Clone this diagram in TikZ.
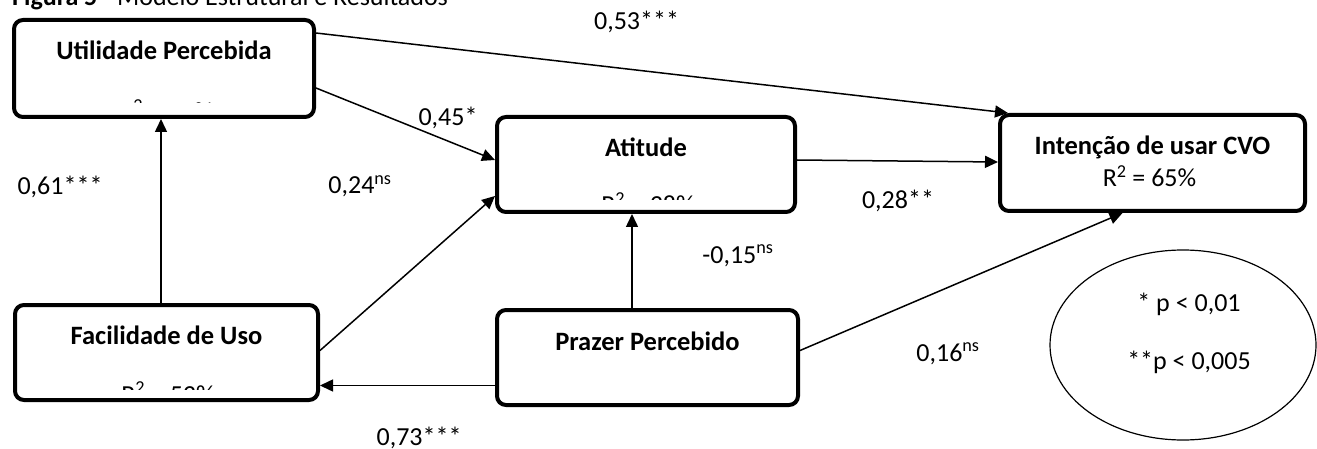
\documentclass[tikz,border=0pt]{standalone}
\usepackage{fontspec}
\setmainfont{Carlito}
\usetikzlibrary{arrows.meta,calc,shapes.geometric}
\begin{document}
\begin{tikzpicture}[x=1pt,y=-1pt,
  every node/.style={font=\fontsize{26}{31}\selectfont, inner sep=0pt},
  box/.style={draw, line width=4pt, rounded corners=9pt, inner sep=0pt},
  title/.style={font=\fontsize{26.5}{31}\selectfont\bfseries, anchor=base},
  rsq/.style={anchor=base},
  lbl/.style={anchor=base},
  conn/.style={line width=1.5pt, -{Triangle[length=13pt,width=12pt]}}
]
\useasboundingbox (0,0) rectangle (1317,449);
% caption
\node[anchor=base west] (cap) at (12,6) {\textbf{Figura 5} - Modelo Estrutural e Resultados};
% boxes
\node[box, minimum width=300pt, minimum height=97pt] (util) at (164,68.5) {};
\node[box, minimum width=298pt, minimum height=95pt] (atit) at (646,164.5) {};
\node[box, minimum width=305pt, minimum height=96pt] (inten) at (1152.5,163) {};
\node[box, minimum width=303pt, minimum height=95pt] (facil) at (166.5,352.5) {};
\node[box, minimum width=301pt, minimum height=95pt] (prazer) at (647.5,357.5) {};
% titles
\node[title] (tutil) at ($(util.north)+(0,42)$) {Utilidade Percebida};
\node[title] (tatit) at ($(atit.north)+(0,42)$) {Atitude};
\node[title] (tinten) at ($(inten.north)+(0,42)$) {Intenção de usar CVO};
\node[rsq] (rinten) at ($(inten.north)+(-3,74)$) {R\textsuperscript{2} = 65\%};
\node[title] (tfacil) at ($(facil.north)+(0,41)$) {Facilidade de Uso};
\node[title] (tprazer) at ($(prazer.north)+(0,42)$) {Prazer Percebido};
% clipped R2 texts
\begin{scope}
\clip (14,20) rectangle (314,103);
\node[rsq] (rutil) at (166,120.5) {R\textsuperscript{2} = 37\%};
\end{scope}
\begin{scope}
\clip (497,117) rectangle (795,200);
\node[rsq] (ratit) at (648,214) {R\textsuperscript{2} = 38\%};
\end{scope}
\begin{scope}
\clip (15,305) rectangle (318,389.5);
\node[rsq] (rfacil) at (168,403) {R\textsuperscript{2} = 53\%};
\end{scope}
% connectors
\draw[conn] ($(util.east)+(0,-35.5)$) -- ($(inten.north west)+(10,0)$);
\draw[conn] ($(util.east)+(0,19.5)$) -- ($(atit.west)+(0,-4.5)$);
\draw[conn] ($(facil.north)+(-5.5,0)$) -- ($(util.south)+(-3,0)$);
\draw[conn] ($(facil.east)+(0,-2)$) -- ($(atit.south west)+(0,-18)$);
\draw[conn] ($(atit.east)+(0,-4.5)$) -- ($(inten.west)+(0,-1)$);
\draw[conn] ($(prazer.north)+(-15.5,0)$) -- ($(atit.south)+(-14,0)$);
\draw[conn] ($(prazer.east)+(0,-7)$) -- ($(inten.south)+(-30,0)$);
\draw[conn] ($(prazer.west)+(0,28)$) -- ($(facil.east)+(0,33)$);
% labels
\node[lbl] (l1) at (636.5,30) {0,53***};
\node[lbl] (l2) at (448,126) {0,45*};
\node[lbl] (l3) at (60,195) {0,61***};
\node[lbl] (l4) at (360,194) {0,24\textsuperscript{ns}};
\node[lbl] (l5) at (898,209) {0,28**};
\node[lbl] (l6) at (738,263) {-0,15\textsuperscript{ns}};
\node[lbl] (l7) at (948,361) {0,16\textsuperscript{ns}};
\node[lbl] (l8) at (419,445) {0,73***};
% legend
\node[draw, ellipse, line width=1.2pt, minimum width=266pt, minimum height=190pt] (leg) at (1183,345) {};
\node[lbl] (p1) at (1189,311) {* p < 0,01};
\node[lbl] (p2) at (1189,369) {**p < 0,005};
\end{tikzpicture}
\end{document}
